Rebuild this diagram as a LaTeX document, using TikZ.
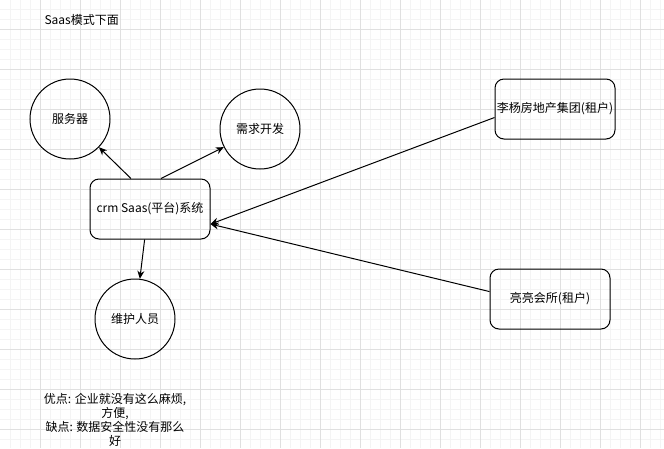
\documentclass[tikz,border=0pt]{standalone}
\usepackage{fontspec}
\setmainfont{Noto Sans CJK SC}
\usetikzlibrary{positioning,arrows.meta}

\definecolor{gridminor}{HTML}{F4F4F4}
\definecolor{gridmajor}{HTML}{E0E0E0}

\begin{document}
\begin{tikzpicture}[
		x=1pt, y=-1pt,
		>={Stealth[length=8pt,width=7pt]},
		every node/.style={
			font=\fontsize{12pt}{14pt}\selectfont,
			align=center
		},
		bubble/.style={circle, draw, line width=1pt, minimum size=80pt, inner sep=0pt},
		roundbox/.style={draw, line width=1pt, rounded corners=9pt,
			minimum width=120pt, minimum height=60pt, inner sep=1pt},
		link/.style={->, line width=1pt}
		]
		
		%--------------------------------------------------
		% Canvas and grid
		%--------------------------------------------------
		
		\useasboundingbox (0,0) rectangle (664,448);
		\fill[white] (0,0) rectangle (664,448);
		
		\foreach \gx in {10,20,...,660}
		{
			\draw[gridminor, line width=0.8pt] (\gx,0) -- (\gx,448);
		}
		\foreach \gy in {9.5,19.5,...,439.5}
		{
			\draw[gridminor, line width=0.8pt] (0,\gy) -- (664,\gy);
		}
		\foreach \gx in {40,80,...,640}
		{
			\draw[gridmajor, line width=0.8pt] (\gx,0) -- (\gx,448);
		}
		\foreach \gy in {29.5,69.5,...,429.5}
		{
			\draw[gridmajor, line width=0.8pt] (0,\gy) -- (664,\gy);
		}
		
		%--------------------------------------------------
		% Platform and its parts
		%--------------------------------------------------
		
		\node[anchor=west] (title) at (41,20) {Saas模式下面};
		
		\node[roundbox] (crm) at (150,209) {crm Saas(平台)系统};
		\node[bubble] (server) at (70,119) {服务器};
		\node[bubble] (dev) at (260,129) {需求开发};
		\node[bubble] (staff) at (135,319) {维护人员};
		
		%--------------------------------------------------
		% Tenants
		%--------------------------------------------------
		
		\node[roundbox] (lyfc) at (555,109) {李杨房地产集团(租户)};
		\node[roundbox] (llhs) at (550,299) {亮亮会所(租户)};
		
		\node[inner sep=0pt] (note) at (115,420)
		{优点: 企业就没有这么麻烦,\\方便,\\缺点: 数据安全性没有那么\\好};
		
		%--------------------------------------------------
		% Arrows
		%--------------------------------------------------
		
		\draw[link] (crm.122) -- (server);
		\draw[link] (crm.70) -- (dev);
		\draw[link] (crm.260) -- (staff);
		\draw[link] (lyfc.188) -- (crm.346);
		\draw[link] (llhs.173) -- (crm.346);
		
	\end{tikzpicture}
\end{document}
